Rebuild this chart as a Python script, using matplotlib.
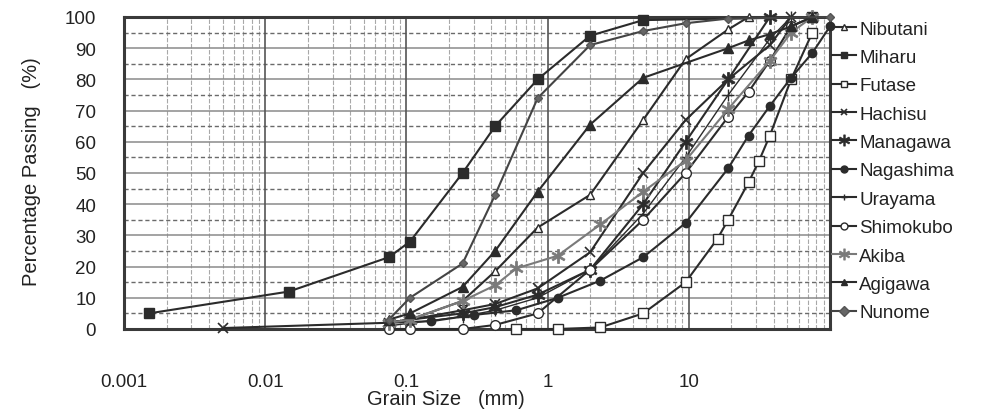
import matplotlib
matplotlib.use("Agg")
import matplotlib.pyplot as plt

plt.rcParams['font.family'] = ['Liberation Sans', 'DejaVu Sans']

# ---- data (grain size in mm, percentage passing) ----
nibutani_x = [0.075, 0.106, 0.25, 0.425, 0.85, 2, 4.75, 9.5, 19, 26.5]
nibutani_y = [2, 3, 9, 18.5, 32.5, 43, 67, 86.5, 96, 100]

miharu_x = [0.0015, 0.0147, 0.075, 0.106, 0.25, 0.425, 0.85, 2, 4.75, 75]
miharu_y = [5, 12, 23, 28, 50, 65, 80, 94, 99, 100]

futase_x = [0.6, 1.18, 2.36, 4.75, 9.5, 16, 19, 26.5, 31.5, 37.5, 53, 75]
futase_y = [0, 0, 0.5, 5, 15, 29, 35, 47, 54, 62, 80, 95]

hachisu_x = [0.005, 0.075, 0.106, 0.25, 0.425, 0.85, 2, 4.75, 9.5, 19, 37.5, 53]
hachisu_y = [0.3, 2, 3, 6, 8, 13, 24.6, 50, 67, 80, 91, 100]

managawa_x = [0.075, 0.106, 0.25, 0.425, 0.85, 2, 4.75, 9.5, 19, 37.5]
managawa_y = [2, 3, 5, 7, 11, 19, 40, 60, 80, 100]

nagashima_x = [0.075, 0.15, 0.3, 0.6, 1.18, 2.36, 4.75, 9.5, 19, 26.5, 37.5, 53, 75, 100]
nagashima_y = [2, 2.5, 4.5, 6, 10, 15.5, 23, 34, 51.5, 62, 71.5, 80.5, 88.5, 97]

urayama_x = [0.075, 0.25, 0.425, 0.85, 2, 4.75, 9.5, 19, 37.5, 53]
urayama_y = [1, 4, 6, 10, 19, 37, 55, 75, 93, 100]

shimokubo_x = [0.075, 0.106, 0.25, 0.425, 0.85, 2, 4.75, 9.5, 19, 26.5, 37.5, 53, 75]
shimokubo_y = [0, 0, 0, 1.3, 5, 19, 35, 50, 68, 76, 86, 97, 100]

akiba_x = [0.075, 0.106, 0.25, 0.425, 0.6, 1.18, 2.36, 4.75, 9.5, 19, 37.5, 53, 75]
akiba_y = [2, 3, 9, 14, 19.4, 23.5, 33.5, 44, 54, 70.5, 86, 95, 100]

agigawa_x = [0.075, 0.106, 0.25, 0.425, 0.85, 2, 4.75, 19, 26.5, 37.5, 53, 75]
agigawa_y = [3, 5, 13.5, 25, 44, 65.5, 80.5, 90, 92.5, 94.5, 97, 100]

nunome_x = [0.075, 0.106, 0.25, 0.425, 0.85, 2, 4.75, 9.5, 19, 100]
nunome_y = [3, 10, 21, 43, 74, 91, 95.5, 98, 99.5, 100]

x_ticks = [0.001, 0.01, 0.1, 1, 10]
x_tick_labels = ['0.001', '0.01', '0.1', '1', '10']
y_ticks = [0, 10, 20, 30, 40, 50, 60, 70, 80, 90, 100]

DARK = '#2b2b2b'
GRAY = '#7a7a7a'
AST = r'$\ast$'

series = [
    ('Nibutani', nibutani_x, nibutani_y, dict(marker='^', mfc='white', mec=DARK, color=DARK, ms=6)),
    ('Miharu', miharu_x, miharu_y, dict(marker='s', mfc=DARK, mec=DARK, color=DARK, ms=6.5)),
    ('Futase', futase_x, futase_y, dict(marker='s', mfc='white', mec=DARK, color=DARK, ms=6.5)),
    ('Hachisu', hachisu_x, hachisu_y, dict(marker='x', mec=DARK, color=DARK, ms=7, mew=1.2)),
    ('Managawa', managawa_x, managawa_y, dict(marker=AST, mec=DARK, mfc=DARK, color=DARK, ms=10, mew=0.6)),
    ('Nagashima', nagashima_x, nagashima_y, dict(marker='o', mfc=DARK, mec=DARK, color=DARK, ms=6)),
    ('Urayama', urayama_x, urayama_y, dict(marker='+', mec=DARK, color=DARK, ms=8, mew=1.0)),
    ('Shimokubo', shimokubo_x, shimokubo_y, dict(marker='o', mfc='white', mec=DARK, color=DARK, ms=7)),
    ('Akiba', akiba_x, akiba_y, dict(marker=AST, mec=GRAY, mfc=GRAY, color=GRAY, ms=10, mew=0.6)),
    ('Agigawa', agigawa_x, agigawa_y, dict(marker='^', mfc=DARK, mec=DARK, color=DARK, ms=6.5)),
    ('Nunome', nunome_x, nunome_y, dict(marker='D', mfc='#666666', mec='#555555', color='#444444', ms=4.5)),
]

fig = plt.figure(figsize=(10.01, 4.10), dpi=100)
ax = fig.add_axes([124 / 1001, 1 - 330 / 410, (830 - 124) / 1001, (330 - 18) / 410])

ax.set_xscale('log')
ax.set_xlim(0.001, 100)
ax.set_ylim(0, 100)

# grid
for dec in [0.001, 0.01, 0.1, 1, 10]:
    for m in range(2, 10):
        ax.axvline(dec * m, color='#a8a8a8', lw=0.8, ls=(0, (4, 1.5)), zorder=1)
for dec in [0.01, 0.1, 1, 10]:
    ax.axvline(dec, color='#555555', lw=1.2, zorder=1.5)
for yv in range(10, 100, 10):
    ax.axhline(yv, color='#8a8a8a', lw=1.1, zorder=1)
for yv in range(5, 100, 10):
    ax.axhline(yv, color='#6a6a6a', lw=1.0, ls=(0, (3, 2)), zorder=1)

handles = []
for name, xs, ys, st in series:
    lw = 1.0 if name == 'Urayama' else 1.5
    ln, = ax.plot(xs, ys, lw=lw, zorder=3, label=name, clip_on=False, **st)
    handles.append(ln)

for sp in ax.spines.values():
    sp.set_linewidth(2.2)
    sp.set_color('#3a3a3a')

ax.set_xticks(x_ticks)
ax.set_xticklabels(x_tick_labels)
ax.xaxis.set_minor_locator(matplotlib.ticker.NullLocator())
ax.set_yticks(y_ticks)
ax.tick_params(axis='both', length=0, labelsize=13.5, colors='#222222')
ax.tick_params(axis='x', pad=32)
ax.tick_params(axis='y', pad=20)

fig.text(32 / 1001, 1 - 172 / 410, 'Percentage Passing   (%)', rotation=90,
         ha='center', va='center', fontsize=14.5, color='#222222')
fig.text(446 / 1001, 1 - 400 / 410, 'Grain Size   (mm)', ha='center', va='center',
         fontsize=14.5, color='#222222')

leg = ax.legend(handles=handles, loc='upper left', bbox_to_anchor=(1.0, 0.995),
                frameon=False, fontsize=13.5, handlelength=1.3, handletextpad=0.15,
                labelspacing=0.6, borderaxespad=0.0, borderpad=0.1)
for t in leg.get_texts():
    t.set_color('#222222')
for lh in leg.legend_handles:
    lh.set_markersize(5 if lh.get_marker() != AST else 8)
    lh.set_linewidth(1.5)

fig.savefig('out.png', dpi=100)
